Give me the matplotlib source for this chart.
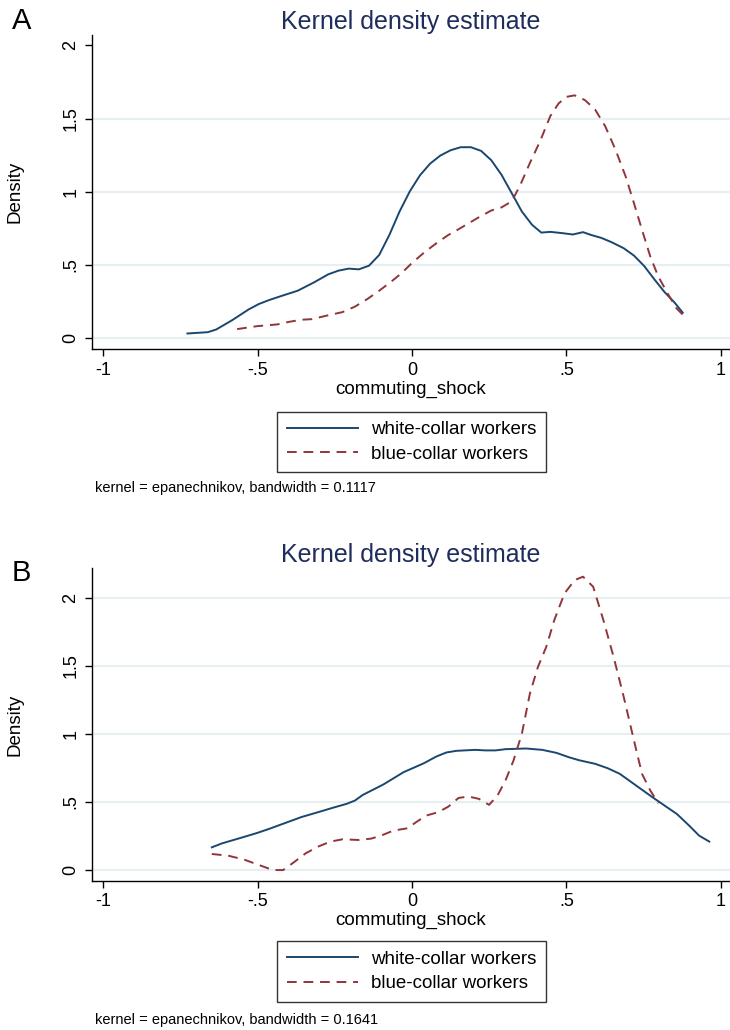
"""
Two-panel kernel density plot of commuting_shock, Stata s2color look.
"""
import numpy as np
import matplotlib
import matplotlib.pyplot as plt

matplotlib.use('Agg')

plt.rcParams['font.family'] = ['Liberation Sans', 'DejaVu Sans']

# Panel A - white-collar
a_white_x = [-0.727, -0.661, -0.634, -0.582, -0.529, -0.496, -0.463, -0.423, -0.370, -0.317,
             -0.271, -0.238, -0.205, -0.172, -0.139, -0.106, -0.073, -0.040, -0.007, 0.026,
             0.059, 0.092, 0.125, 0.158, 0.191, 0.224, 0.257, 0.290, 0.323, 0.356,
             0.389, 0.419, 0.448, 0.488, 0.521, 0.554, 0.580, 0.613, 0.647, 0.686,
             0.719, 0.752, 0.785, 0.818, 0.851, 0.877]
a_white_y = [0.032, 0.041, 0.059, 0.123, 0.196, 0.233, 0.260, 0.288, 0.324, 0.381,
             0.436, 0.461, 0.475, 0.470, 0.495, 0.568, 0.705, 0.865, 1.002, 1.112,
             1.192, 1.247, 1.283, 1.304, 1.304, 1.279, 1.215, 1.116, 0.991, 0.865,
             0.774, 0.721, 0.726, 0.717, 0.708, 0.724, 0.705, 0.685, 0.655, 0.614,
             0.564, 0.493, 0.402, 0.315, 0.242, 0.174]

# Panel A - blue-collar
a_blue_x = [-0.566, -0.502, -0.436, -0.397, -0.357, -0.324, -0.278, -0.225, -0.185, -0.146,
            -0.106, -0.067, -0.034, -0.001, 0.039, 0.079, 0.118, 0.151, 0.184, 0.217,
            0.257, 0.290, 0.323, 0.349, 0.382, 0.415, 0.448, 0.475, 0.501, 0.527,
            0.560, 0.593, 0.626, 0.659, 0.692, 0.719, 0.745, 0.772, 0.798, 0.831,
            0.857, 0.884]
a_blue_y = [0.062, 0.082, 0.094, 0.112, 0.126, 0.130, 0.153, 0.178, 0.215, 0.265,
            0.324, 0.386, 0.443, 0.511, 0.584, 0.648, 0.705, 0.744, 0.785, 0.826,
            0.872, 0.893, 0.934, 1.037, 1.196, 1.345, 1.516, 1.603, 1.648, 1.658,
            1.626, 1.562, 1.447, 1.288, 1.105, 0.922, 0.740, 0.557, 0.420, 0.295,
            0.203, 0.146]

# Panel B - white-collar
b_white_x = [-0.648, -0.615, -0.549, -0.502, -0.463, -0.410, -0.357, -0.304, -0.251, -0.212,
             -0.185, -0.159, -0.093, -0.027, 0.039, 0.079, 0.112, 0.145, 0.205, 0.238,
             0.271, 0.303, 0.369, 0.422, 0.468, 0.508, 0.541, 0.594, 0.634, 0.673,
             0.726, 0.779, 0.818, 0.858, 0.898, 0.930, 0.963]
b_white_y = [0.167, 0.196, 0.240, 0.272, 0.302, 0.346, 0.390, 0.425, 0.461, 0.486,
             0.510, 0.552, 0.628, 0.719, 0.785, 0.834, 0.864, 0.876, 0.883, 0.879,
             0.879, 0.888, 0.893, 0.883, 0.861, 0.829, 0.807, 0.780, 0.748, 0.707,
             0.621, 0.535, 0.474, 0.412, 0.326, 0.253, 0.209]

# Panel B - blue-collar
b_blue_x = [-0.648, -0.595, -0.542, -0.489, -0.450, -0.417, -0.383, -0.344, -0.304, -0.264,
            -0.225, -0.172, -0.132, -0.100, -0.060, -0.014, 0.013, 0.046, 0.085, 0.118,
            0.151, 0.184, 0.217, 0.250, 0.277, 0.303, 0.329, 0.356, 0.382, 0.408,
            0.435, 0.461, 0.494, 0.527, 0.554, 0.587, 0.620, 0.653, 0.686, 0.719,
            0.745, 0.772, 0.798]
b_blue_y = [0.118, 0.106, 0.076, 0.032, 0.000, 0.000, 0.056, 0.123, 0.172, 0.209,
            0.226, 0.221, 0.231, 0.253, 0.290, 0.307, 0.351, 0.400, 0.425, 0.466,
            0.530, 0.540, 0.523, 0.479, 0.547, 0.658, 0.805, 1.001, 1.296, 1.492,
            1.639, 1.836, 2.032, 2.130, 2.155, 2.081, 1.836, 1.566, 1.271, 0.952,
            0.707, 0.584, 0.491]

x_ticks = [-1, -0.5, 0, 0.5, 1]
x_tick_labels = ['-1', '-.5', '0', '.5', '1']
y_ticks = [0, 0.5, 1, 1.5, 2]
y_tick_labels = ['0', '.5', '1', '1.5', '2']

NAVY = '#1a476f'
MAROON = '#90353b'
GRID = '#e8eff2'
TITLE = '#1e2d5c'


def draw_panel(fig, rect, wx, wy, bx, by, ylim, grid_vals, note, letter, letter_y, legend_y, note_y):
    ax = fig.add_axes(rect)
    for g in grid_vals:
        ax.axhline(g, color=GRID, linewidth=1.6, zorder=0)
    ax.plot(wx, wy, color=NAVY, linewidth=1.4, label='white-collar workers', zorder=3)
    ax.plot(bx, by, color=MAROON, linewidth=1.4, linestyle=(0, (5, 3.5)),
            label='blue-collar workers', zorder=3)

    ax.set_xlim(-1.036, 1.03)
    ax.set_ylim(*ylim)
    ax.set_xticks(x_ticks)
    ax.set_xticklabels(x_tick_labels, fontsize=13)
    ax.set_yticks(y_ticks)
    ax.set_yticklabels(y_tick_labels, fontsize=13, rotation=90, va='center')
    ax.tick_params(direction='out', length=5, width=1, color='black', pad=4)

    for side in ['top', 'right']:
        ax.spines[side].set_visible(False)
    for side in ['left', 'bottom']:
        ax.spines[side].set_linewidth(1)

    ax.set_xlabel('commuting_shock', fontsize=13.5)
    ax.xaxis.set_label_coords(0.5, -0.1)
    ax.set_ylabel('Density', fontsize=13.5, va='center')
    ax.yaxis.set_label_coords(-0.121, 0.5)

    ax.set_title('Kernel density estimate', fontsize=18, color=TITLE, pad=4)

    leg = ax.legend(loc='center', bbox_to_anchor=(0.564, legend_y), bbox_transform=fig.transFigure,
                    fontsize=13.5, frameon=True, fancybox=False, handlelength=3.8,
                    borderpad=0.5, labelspacing=0.4, handletextpad=0.7)
    leg.get_frame().set_edgecolor('black')
    leg.get_frame().set_linewidth(1)

    fig.text(0.130, note_y, note, fontsize=10.5, va='center', ha='left')
    fig.text(0.016, letter_y, letter, fontsize=21, va='center', ha='left')
    return ax


fig = plt.figure(figsize=(7.3, 10.3), dpi=100)

draw_panel(fig, [0.126, 0.661, 0.874, 0.305], a_white_x, a_white_y, a_blue_x, a_blue_y,
           (-0.075, 2.07), [0, 0.5, 1, 1.5],
           'kernel = epanechnikov, bandwidth = 0.1117', 'A', 0.980, 0.571, 0.526)

draw_panel(fig, [0.126, 0.1447, 0.874, 0.304], b_white_x, b_white_y, b_blue_x, b_blue_y,
           (-0.08, 2.22), [0, 0.5, 1, 1.5, 2],
           'kernel = epanechnikov, bandwidth = 0.1641', 'B', 0.444, 0.0568, 0.0097)

fig.savefig('out.png', dpi=100)
plt.close(fig)
